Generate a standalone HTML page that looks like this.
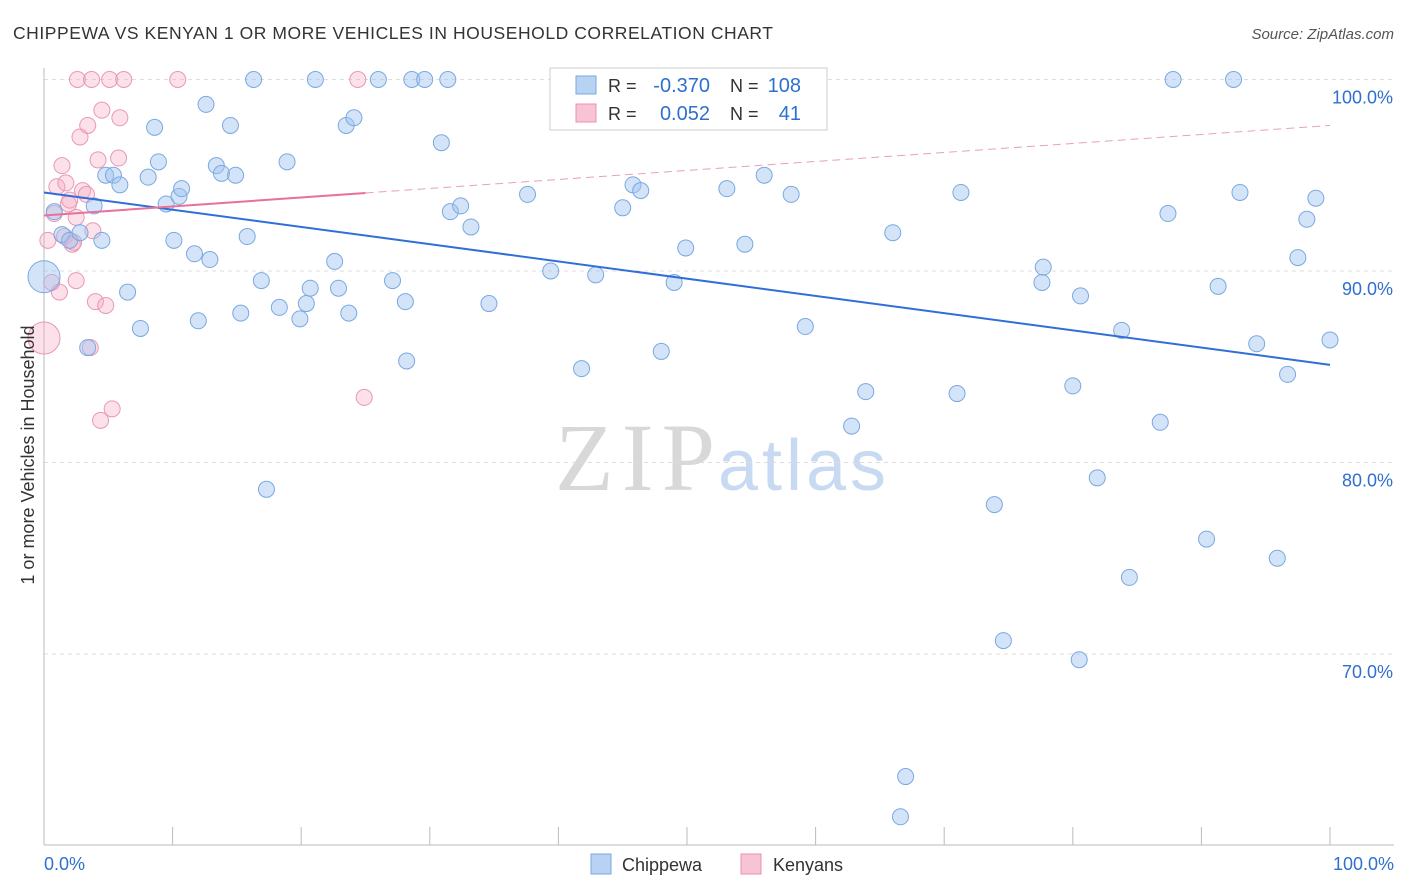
<!DOCTYPE html>
<html><head><meta charset="utf-8"><style>
body{margin:0;background:#fff;font-family:"Liberation Sans",sans-serif;}
svg{display:block}
</style></head><body>
<svg id="chart" width="1406" height="892" xmlns="http://www.w3.org/2000/svg">
<text x="13" y="39" font-size="17.5" fill="#333" textLength="760">CHIPPEWA VS KENYAN 1 OR MORE VEHICLES IN HOUSEHOLD CORRELATION CHART</text>
<text x="1394" y="39" font-size="15" fill="#555" font-style="italic" text-anchor="end">Source: ZipAtlas.com</text>
<text x="555" y="490" font-size="96" fill="#d8d8d8" textLength="160" font-family="Liberation Serif,serif">ZIP</text>
<text x="718" y="490" font-size="72" fill="#c8daf2" textLength="168">atlas</text>
<g id="grid"></g>
<g id="axes"></g>
<g id="pts"></g>
<g id="trends"></g>
<text transform="translate(34,455) rotate(-90)" font-size="18" fill="#333" text-anchor="middle">1 or more Vehicles in Household</text>
<g>
<rect x="550" y="68" width="277" height="62" fill="#fff" stroke="#ccc"/>
<rect x="576" y="76" width="20" height="18" fill="#b8d2f4" stroke="#7aa8e0"/>
<rect x="576" y="104" width="20" height="18" fill="#f8c4d4" stroke="#e890b0"/>
<text x="608" y="92" font-size="18" fill="#333">R =</text>
<text x="710" y="92" font-size="20" fill="#2f6fcf" text-anchor="end">-0.370</text>
<text x="730" y="92" font-size="18" fill="#333">N =</text>
<text x="801" y="92" font-size="20" fill="#2f6fcf" text-anchor="end">108</text>
<text x="608" y="120" font-size="18" fill="#333">R =</text>
<text x="710" y="120" font-size="20" fill="#2f6fcf" text-anchor="end">0.052</text>
<text x="730" y="120" font-size="18" fill="#333">N =</text>
<text x="801" y="120" font-size="20" fill="#2f6fcf" text-anchor="end">41</text>
</g>
<g>
<rect x="591" y="854" width="20" height="20" fill="#b8d2f4" stroke="#7aa8e0"/>
<text x="622" y="871" font-size="18" fill="#333">Chippewa</text>
<rect x="741" y="854" width="20" height="20" fill="#f8c4d4" stroke="#e890b0"/>
<text x="773" y="871" font-size="18" fill="#333">Kenyans</text>
</g>
</svg>
<script>
const blueX=[0,0.8,1.4,2.0,2.8,3.4,3.9,4.5,4.8,5.4,5.9,6.5,7.5,8.1,8.6,8.9,9.5,10.1,10.5,10.7,11.7,12.0,12.6,12.9,13.4,13.8,14.5,14.9,15.3,15.8,16.3,16.9,17.3,18.3,18.9,19.9,20.4,20.7,21.1,22.6,22.9,23.5,23.7,24.1,26.0,27.1,28.1,28.2,28.6,29.6,30.9,31.4,31.6,32.4,33.2,34.6,37.6,39.4,41.8,42.9,45.0,45.3,45.8,46.4,48.0,49.0,49.9,53.1,53.4,54.5,56.0,58.1,59.2,62.8,63.9,66.0,67.0,66.6,71.0,71.3,73.9,74.6,77.6,77.7,80.0,80.5,80.6,81.9,83.8,84.4,86.8,87.4,87.8,90.4,91.3,92.5,93.0,94.3,95.9,96.7,97.5,98.2,98.9,100];
const blueY=[89.7,93.1,91.9,91.6,92.0,86.0,93.4,91.6,95.0,95.0,94.5,88.9,87.0,94.9,97.5,95.7,93.5,91.6,93.9,94.3,90.9,87.4,98.7,90.6,95.5,95.1,97.6,95.0,87.8,91.8,100,89.5,78.6,88.1,95.7,87.5,88.3,89.1,100,90.5,89.1,97.6,87.8,98.0,100,89.5,88.4,85.3,100,100,96.7,100,93.1,93.4,92.3,88.3,94.0,90.0,84.9,89.8,93.3,100,94.5,94.2,85.8,89.4,91.2,94.3,100,91.4,95.0,94.0,87.1,81.9,83.7,92.0,63.6,61.5,83.6,94.1,77.8,70.7,89.4,90.2,84.0,69.7,88.7,79.2,86.9,74.0,82.1,93.0,100,76.0,89.2,100,94.1,86.2,75.0,84.6,90.7,92.7,93.8,86.4];
const pinkX=[0,0.3,0.6,0.8,1.0,1.2,1.4,1.6,1.7,1.9,2.0,2.2,2.3,2.5,2.5,2.6,2.8,3.0,3.3,3.4,3.6,3.7,3.8,4.0,4.2,4.4,4.5,4.8,5.1,5.3,5.8,5.9,6.2,10.4,24.4,24.9];
const pinkY=[86.5,91.6,89.4,93.0,94.4,88.9,95.5,91.8,94.6,93.5,93.7,91.4,91.5,89.5,92.8,100,97.0,94.2,94.0,97.6,86.0,100,92.1,88.4,95.8,82.2,98.4,88.2,100,82.8,95.9,98.0,100,100,100,83.4];
const blueTrend=[94.1,85.1];
const pinkTrend=[92.9,97.6];
const yTicks=[100,90,80,70];
const xTicks=[0,10,20,30,40,50,60,70,80,90,100];
const NS="http://www.w3.org/2000/svg";
const X=v=>44+v*12.86, Y=v=>79.5+(100-v)*19.15;
function mk(t,a,p){const e=document.createElementNS(NS,t);for(const k in a)e.setAttribute(k,a[k]);document.getElementById(p).appendChild(e);return e;}
yTicks.forEach(v=>{
 const g=mk('line',{x1:44,x2:1394,y1:Y(v),y2:Y(v),stroke:'#ddd','stroke-dasharray':'4,4'},'grid');
 
 
 const t=mk('text',{x:1393,y:Y(v)+24,'font-size':18,fill:'#2f6fcf','text-anchor':'end'},'axes');
 t.textContent=v.toFixed(1)+'%';
 
 
});
const ax=mk('line',{x1:44,x2:1394,y1:845,y2:845,stroke:'#bbb'},'axes');


const ay=mk('line',{x1:44,x2:44,y1:68,y2:845,stroke:'#bbb'},'axes');


xTicks.forEach(v=>{
 const l=mk('line',{x1:X(v),x2:X(v),y1:827,y2:845,stroke:'#bbb'},'axes');
 
 
});
[[0,'start'],[100,'end']].forEach(([v,a])=>{
 const t=mk('text',{x:v==0?44:1394,y:870,'font-size':18,fill:'#2f6fcf','text-anchor':a},'axes');
 t.textContent=v.toFixed(1)+'%';
 
 
});
function pts(xs,ys,fill,stroke,name){
 xs.forEach((x,i)=>{
  const c=mk('circle',{cx:X(x),cy:Y(ys[i]),r:i==0?16:8,fill:fill,stroke:stroke,'stroke-width':1},'pts');
  
  
 });
}
pts(pinkX,pinkY,'rgba(246,170,195,0.35)','#e898b4','kenyans-point');
pts(blueX,blueY,'rgba(160,196,240,0.45)','#7aa8e0','chippewa-point');
const bl=mk('line',{x1:X(0),y1:Y(blueTrend[0]),x2:X(100),y2:Y(blueTrend[1]),stroke:'#2f6fd6','stroke-width':2},'trends');


const pv=x=>pinkTrend[0]+(pinkTrend[1]-pinkTrend[0])*x/100;
const pl=mk('line',{x1:X(0),y1:Y(pv(0)),x2:X(25),y2:Y(pv(25)),stroke:'#e8709a','stroke-width':2},'trends');


const pd=mk('line',{x1:X(25),y1:Y(pv(25)),x2:X(100),y2:Y(pv(100)),stroke:'#e8a0b8','stroke-width':1,'stroke-dasharray':'8,5'},'trends');


</script>
</body></html>
